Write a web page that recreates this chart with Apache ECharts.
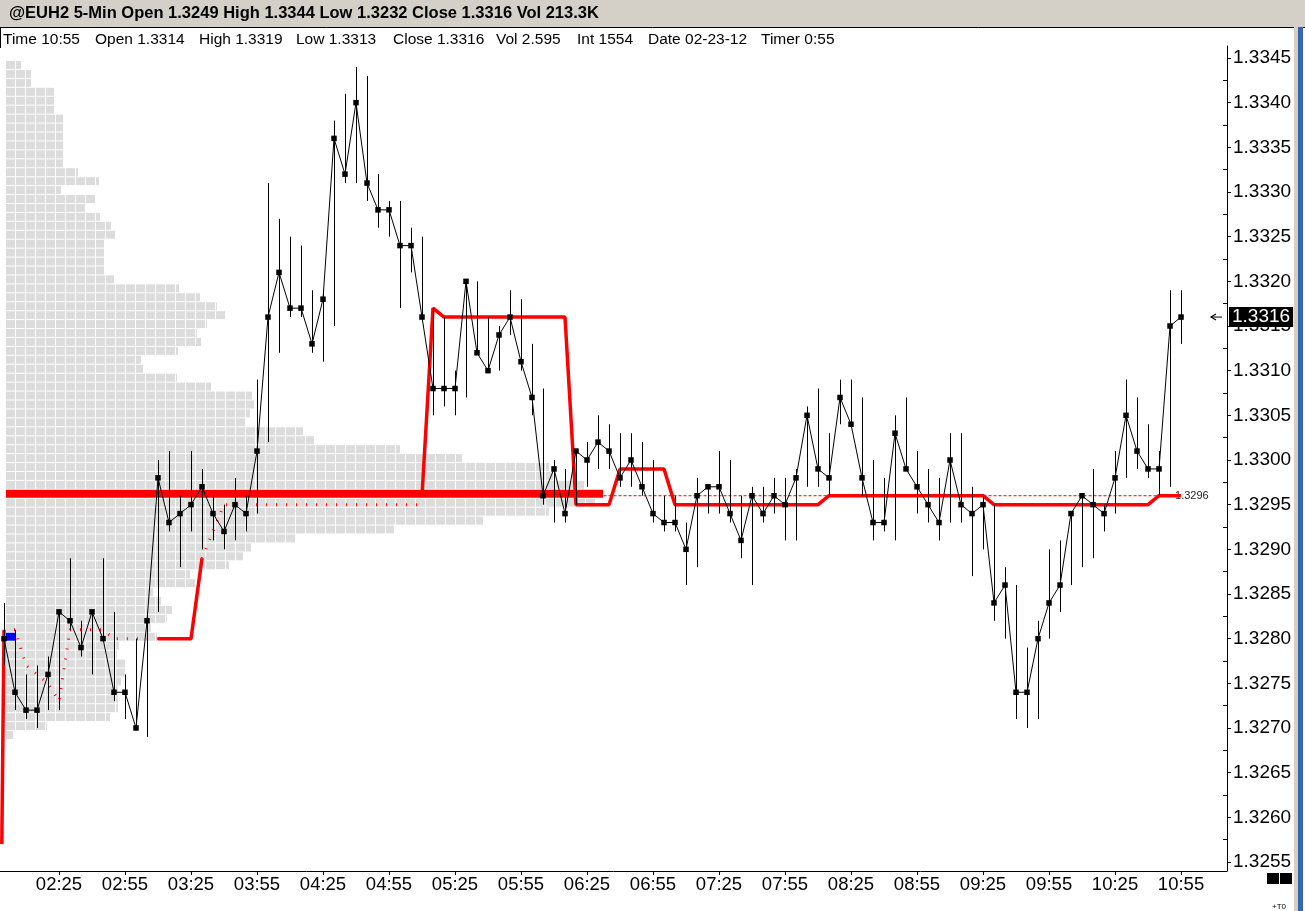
<!DOCTYPE html>
<html><head><meta charset="utf-8">
<script src="https://cdn.jsdelivr.net/npm/echarts@6/dist/echarts.min.js"></script>
<style>html,body{margin:0;padding:0;background:#fff;}#c{width:1305px;height:911px;}</style>
</head><body><div id="c"></div>
<script>
// ---------- data ----------
const times = [
'02:00','02:05','02:10','02:15','02:20','02:25','02:30','02:35','02:40','02:45','02:50','02:55',
'03:00','03:05','03:10','03:15','03:20','03:25','03:30','03:35','03:40','03:45','03:50','03:55',
'04:00','04:05','04:10','04:15','04:20','04:25','04:30','04:35','04:40','04:45','04:50','04:55',
'05:00','05:05','05:10','05:15','05:20','05:25','05:30','05:35','05:40','05:45','05:50','05:55',
'06:00','06:05','06:10','06:15','06:20','06:25','06:30','06:35','06:40','06:45','06:50','06:55',
'07:00','07:05','07:10','07:15','07:20','07:25','07:30','07:35','07:40','07:45','07:50','07:55',
'08:00','08:05','08:10','08:15','08:20','08:25','08:30','08:35','08:40','08:45','08:50','08:55',
'09:00','09:05','09:10','09:15','09:20','09:25','09:30','09:35','09:40','09:45','09:50','09:55',
'10:00','10:05','10:10','10:15','10:20','10:25','10:30','10:35','10:40','10:45','10:50','10:55'];

const closes = [
1.3280,1.3274,1.3272,1.3272,1.3276,1.3283,1.3282,1.3279,1.3283,1.3280,1.3274,1.3274,
1.3270,1.3282,1.3298,1.3293,1.3294,1.3295,1.3297,1.3294,1.3292,1.3295,1.3294,1.3301,
1.3316,1.3321,1.3317,1.3317,1.3313,1.3318,1.3336,1.3332,1.3340,1.3331,1.3328,1.3328,
1.3324,1.3324,1.3316,1.3308,1.3308,1.3308,1.3320,1.3312,1.3310,1.3314,1.3316,1.3311,
1.3307,1.3296,1.3299,1.3294,1.3301,1.3300,1.3302,1.3301,1.3298,1.3300,1.3297,1.3294,
1.3293,1.3293,1.3290,1.3296,1.3297,1.3297,1.3294,1.3291,1.3296,1.3294,1.3296,1.3295,
1.3298,1.3305,1.3299,1.3298,1.3307,1.3304,1.3298,1.3293,1.3293,1.3303,1.3299,1.3297,
1.3295,1.3293,1.3300,1.3295,1.3294,1.3295,1.3284,1.3286,1.3274,1.3274,1.3280,1.3284,
1.3286,1.3294,1.3296,1.3295,1.3294,1.3298,1.3305,1.3301,1.3299,1.3299,1.3315,1.3316];

const highs = [
1.3284,1.3281,1.3276,1.3277,1.3278,1.3283,1.3289,1.3282,1.3283,1.3289,1.3283,1.3276,
1.3280,1.3283,1.3300,1.3301,1.3296,1.3301,1.3299,1.3296,1.3295,1.3298,1.3296,1.3309,
1.3331,1.3327,1.3325,1.3324,1.3319,1.3319,1.3338,1.3341,1.3344,1.3343,1.3332,1.3329,
1.3329,1.3326,1.3325,1.3317,1.3316,1.3310,1.3320,1.3320,1.3316,1.3315,1.3319,1.3318,
1.3313,1.3308,1.3300,1.3299,1.3301,1.3302,1.3305,1.3304,1.3303,1.3303,1.3302,1.3300,
1.3296,1.3296,1.3293,1.3298,1.3297,1.3301,1.3300,1.3296,1.3297,1.3297,1.3298,1.3298,
1.3299,1.3306,1.3308,1.3303,1.3309,1.3309,1.3307,1.3300,1.3298,1.3305,1.3307,1.3301,
1.3299,1.3298,1.3303,1.3303,1.3297,1.3296,1.3295,1.3288,1.3286,1.3279,1.3282,1.3290,
1.3291,1.3294,1.3296,1.3299,1.3295,1.3301,1.3309,1.3307,1.3304,1.3301,1.3319,1.3319];

const lows = [
1.3277,1.3272,1.3271,1.3270,1.3272,1.3272,1.3281,1.3278,1.3276,1.3280,1.3273,1.3271,
1.3270,1.3269,1.3283,1.3292,1.3288,1.3292,1.3290,1.3291,1.3290,1.3291,1.3292,1.3294,
1.3302,1.3312,1.3316,1.3316,1.3312,1.3311,1.3315,1.3331,1.3331,1.3329,1.3326,1.3325,
1.3317,1.3321,1.3316,1.3305,1.3306,1.3305,1.3307,1.3312,1.3310,1.3310,1.3314,1.3310,
1.3305,1.3295,1.3293,1.3293,1.3295,1.3297,1.3299,1.3299,1.3297,1.3297,1.3296,1.3293,
1.3292,1.3292,1.3286,1.3288,1.3294,1.3294,1.3293,1.3289,1.3286,1.3293,1.3294,1.3291,
1.3291,1.3297,1.3297,1.3296,1.3304,1.3304,1.3296,1.3291,1.3292,1.3291,1.3299,1.3294,
1.3293,1.3291,1.3293,1.3293,1.3287,1.3290,1.3282,1.3280,1.3271,1.3270,1.3271,1.3280,
1.3283,1.3286,1.3288,1.3289,1.3292,1.3294,1.3298,1.3299,1.3298,1.3296,1.3297,1.3313];

// developing POC, thick segments (null = not drawn thick)
const dpocStartIndex = -0.2;
const dpocStartPrice = 1.3257;
const dpocThick = [
1.3281,null,null,null,null,null,null,null,null,null,null,null,
null,null,1.3280,1.3280,1.3280,1.3280,1.3289,null,null,null,null,null,
null,null,null,null,null,null,null,null,null,null,null,null,
null,null,1.3296,1.3317,1.3316,1.3316,1.3316,1.3316,1.3316,1.3316,1.3316,1.3316,
1.3316,1.3316,1.3316,1.3316,1.3295,1.3295,1.3295,1.3295,1.3299,1.3299,1.3299,1.3299,
1.3299,1.3295,1.3295,1.3295,1.3295,1.3295,1.3295,1.3295,1.3295,1.3295,1.3295,1.3295,
1.3295,1.3295,1.3295,1.3296,1.3296,1.3296,1.3296,1.3296,1.3296,1.3296,1.3296,1.3296,
1.3296,1.3296,1.3296,1.3296,1.3296,1.3296,1.3295,1.3295,1.3295,1.3295,1.3295,1.3295,
1.3295,1.3295,1.3295,1.3295,1.3295,1.3295,1.3295,1.3295,1.3295,1.3296,1.3296,1.3296];

// developing POC, thin dotted segments
const dpocThin = [
1.3281,1.3281,1.3277,1.3276,1.3275,1.3273,1.3281,1.3281,1.3281,1.3281,1.3280,1.3280,
1.3280,1.3280,1.3280,null,null,null,1.3289,1.3292,1.3295,1.3295,1.3295,1.3295,
1.3295,1.3295,1.3295,1.3295,1.3295,1.3295,1.3295,1.3295,1.3295,1.3295,1.3295,1.3295,
1.3295,1.3295,1.3295,null,null,null,null,null,null,null,null,null,
null,null,null,null,null,null,null,null,null,null,null,null,
null,null,null,null,null,null,null,null,null,null,null,null,
null,null,null,null,null,null,null,null,null,null,null,null,
null,null,null,null,null,null,null,null,null,null,null,null,
null,null,null,null,null,null,null,null,null,null,null,null];

// volume profile (price rows, block counts)
const profilePrices = [
1.3344,1.3343,1.3342,1.3341,1.3340,1.3339,1.3338,1.3337,1.3336,1.3335,1.3334,1.3333,
1.3332,1.3331,1.3330,1.3329,1.3328,1.3327,1.3326,1.3325,1.3324,1.3323,1.3322,1.3321,
1.3320,1.3319,1.3318,1.3317,1.3316,1.3315,1.3314,1.3313,1.3312,1.3311,1.3310,1.3309,
1.3308,1.3307,1.3306,1.3305,1.3304,1.3303,1.3302,1.3301,1.3300,1.3299,1.3298,1.3297,
1.3296,1.3295,1.3294,1.3293,1.3292,1.3291,1.3290,1.3289,1.3288,1.3287,1.3286,1.3285,
1.3284,1.3283,1.3282,1.3281,1.3280,1.3279,1.3278,1.3277,1.3276,1.3275,1.3274,1.3273,
1.3272,1.3271,1.3270,1.3269];
const profileCounts = [
1.5,2.5,2.5,4.8,4.8,4.8,5.7,5.7,5.7,5.7,5.7,5.7,
7.2,9.3,5.5,8.9,7.9,9.4,10.5,10.9,9.8,9.8,9.8,9.8,
10.8,17.3,19.4,21.1,21.9,20.1,19.1,19.5,17.2,13.5,13.7,17.1,
20.5,24.6,24.8,24.4,23.9,29.7,30.8,39.4,45.6,54.3,54.7,57.8,
59.7,58.9,54.3,47.7,38.8,28.9,24.5,23.7,22.3,18.4,18.9,14.7,
15.5,16.6,16.1,14.5,15.1,11.3,11.1,11.9,11.9,11.5,11.2,11.2,
11.2,10.4,4.1,0.7];
const pocPrice = 1.3296;
const pocExtStartIndex = 54.5;
const openMarkPrice = 1.3280;
const lastClose = 1.3316;

const yTicks = [1.3255,1.3260,1.3265,1.3270,1.3275,1.3280,1.3285,1.3290,1.3295,1.3300,
1.3305,1.3310,1.3315,1.3320,1.3325,1.3330,1.3335,1.3340,1.3345];
const yMinorTicks = [1.32575,1.32625,1.32675,1.32725,1.32775,1.32825,1.32875,1.32925,1.32975,
1.33025,1.33075,1.33125,1.33175,1.33225,1.33275,1.33325,1.33375,1.33425];
const xTickLabels = ['02:25','02:55','03:25','03:55','04:25','04:55','05:25','05:55','06:25',
'06:55','07:25','07:55','08:25','08:55','09:25','09:55','10:25','10:55'];

// ---------- chart ----------
const FONT = "'Liberation Sans', Arial, sans-serif";
const yMin = 1.3253992, yMax = 1.3346343;
const xTickIdx = xTickLabels.map(t => times.indexOf(t));
const toPairs = arr => arr.map((v, i) => [i, v == null ? '-' : v]);

const chart = echarts.init(document.getElementById('c'), null, {renderer: 'canvas'});

function renderProfile(params, api) {
  const c = api.value(0), p = api.value(1);
  const o = api.coord([0, p]);
  const h = api.size([0, 0.0001])[1];
  const u = api.size([1, 0])[0];
  const top = o[1] - h * 0.66;
  const kids = [];
  if (Math.abs(p - pocPrice) < 1e-7) {
    kids.push({type: 'rect', shape: {x: o[0], y: top, width: c * u, height: h - 1}, style: {fill: '#ff0000'}});
  } else {
    for (let k = 0; k < c; k++) {
      const w = Math.min(0.9, c - k) * u;
      const blue = k === 0 && Math.abs(p - openMarkPrice) < 1e-7;
      kids.push({type: 'rect', shape: {x: o[0] + k * u, y: top, width: w, height: h - 1},
        style: {fill: blue ? '#0000ff' : '#dcdcdc'}});
    }
  }
  return {type: 'group', children: kids};
}

function renderHL(params, api) {
  const i = api.value(0);
  const a = api.coord([i, api.value(1)]);
  const b = api.coord([i, api.value(2)]);
  const x = Math.round(a[0]) + 0.5;
  return {type: 'line', shape: {x1: x, y1: a[1], x2: x, y2: b[1]},
    style: {stroke: '#000', lineWidth: 1}};
}

const txt = (x, s) => ({type: 'text', x: x, y: 40,
  style: {text: s, font: '15.5px ' + FONT, fill: '#000', textVerticalAlign: 'middle'}, z: 11});

const option = {
  animation: false,
  backgroundColor: '#ffffff',
  grid: {left: 0, top: 46, width: 1227, height: 825, containLabel: false},
  xAxis: [
    {type: 'value', min: -0.3636, max: 111.18, gridIndex: 0,
     axisLine: {show: true, onZero: false, lineStyle: {color: '#000', width: 1}},
     axisTick: {show: true, customValues: xTickIdx, length: 4, lineStyle: {color: '#000'}},
     axisLabel: {customValues: xTickIdx, formatter: v => times[Math.round(v)] || '',
       color: '#000', fontSize: 18.5, fontFamily: FONT, margin: 4},
     splitLine: {show: false}},
    {type: 'value', min: -0.6, max: 122.1, show: false, gridIndex: 0}
  ],
  yAxis: [
    {type: 'value', position: 'right', min: yMin, max: yMax, scale: true,
     axisLine: {show: true, onZero: false, lineStyle: {color: '#000', width: 1}},
     axisTick: {show: true, customValues: yTicks, length: 4, inside: false, lineStyle: {color: '#000'}},
     axisLabel: {customValues: yTicks, formatter: v => v.toFixed(4), color: '#000',
       fontSize: 19, fontFamily: FONT, margin: 6},
     splitLine: {show: false}},
    {type: 'value', position: 'right', min: yMin, max: yMax, scale: true,
     axisLine: {show: false, onZero: false},
     axisTick: {show: true, customValues: yMinorTicks, length: 4, inside: true, lineStyle: {color: '#000'}},
     axisLabel: {customValues: [lastClose], formatter: v => v.toFixed(4), color: '#fff',
       backgroundColor: '#000', padding: [1, 3, 0, 3], lineHeight: 19,
       fontSize: 19, fontFamily: FONT, margin: 2},
     splitLine: {show: false}}
  ],
  series: [
    {type: 'custom', name: 'profile', xAxisIndex: 1, yAxisIndex: 0, renderItem: renderProfile,
     data: profileCounts.map((c, i) => [c, profilePrices[i]]), z: 1, silent: true},
    {type: 'line', name: 'pocExt', xAxisIndex: 0, yAxisIndex: 0,
     data: [[pocExtStartIndex, pocPrice], [closes.length - 1, pocPrice]],
     symbol: 'none', lineStyle: {color: '#ff0000', width: 1, type: [3, 2]}, z: 2,
     endLabel: {show: true, formatter: () => pocPrice.toFixed(4), color: '#222', fontSize: 11,
       fontFamily: FONT, offset: [-14, 0]}},
    {type: 'line', name: 'dpocThin', xAxisIndex: 0, yAxisIndex: 0, data: toPairs(dpocThin),
     symbol: 'none', connectNulls: false,
     lineStyle: {color: '#ff0000', width: 3, type: [1, 9], cap: 'butt'}, z: 3},
    {type: 'line', name: 'dpocThick', xAxisIndex: 0, yAxisIndex: 0,
     data: [[dpocStartIndex, dpocStartPrice]].concat(toPairs(dpocThick)),
     symbol: 'none', connectNulls: false,
     lineStyle: {color: '#ff0000', width: 3.5}, z: 4},
    {type: 'custom', name: 'hl', xAxisIndex: 0, yAxisIndex: 0, renderItem: renderHL,
     data: highs.map((h, i) => [i, lows[i], h]), z: 5, silent: true},
    {type: 'line', name: 'close', xAxisIndex: 0, yAxisIndex: 0, data: toPairs(closes),
     symbol: 'rect', symbolSize: 5.5, itemStyle: {color: '#000'},
     lineStyle: {color: '#000', width: 1}, z: 6}
  ],
  graphic: [
    {type: 'rect', shape: {x: 0, y: 0, width: 1305, height: 27}, style: {fill: '#d4d0c8'}, z: 10},
    {type: 'line', shape: {x1: 0, y1: 27.5, x2: 1305, y2: 27.5}, style: {stroke: '#000', lineWidth: 1}, z: 10},
    {type: 'line', shape: {x1: 0.5, y1: 28, x2: 0.5, y2: 48}, style: {stroke: '#000', lineWidth: 1}, z: 10},
    {type: 'text', x: 9, y: 13, style: {text: '@EUH2 5-Min Open 1.3249 High 1.3344 Low 1.3232 Close 1.3316 Vol 213.3K',
      font: 'bold 16.5px ' + FONT, fill: '#000', textVerticalAlign: 'middle'}, z: 11},
    txt(3, 'Time 10:55'), txt(95, 'Open 1.3314'), txt(199, 'High 1.3319'), txt(296, 'Low 1.3313'),
    txt(393, 'Close 1.3316'), txt(496, 'Vol 2.595'), txt(577, 'Int 1554'), txt(648, 'Date 02-23-12'),
    txt(761, 'Timer 0:55'),
    {type: 'rect', shape: {x: 1294, y: 27, width: 4, height: 884}, style: {fill: '#d4d0c8'}, z: 10},
    {type: 'rect', shape: {x: 1298, y: 27, width: 5, height: 884}, style: {fill: '#3a66b0'}, z: 10},
    {type: 'rect', shape: {x: 1267, y: 873, width: 12, height: 11}, style: {fill: '#000'}, z: 10},
    {type: 'rect', shape: {x: 1280, y: 873, width: 12, height: 11}, style: {fill: '#000'}, z: 10},
    {type: 'text', x: 1272, y: 903, style: {text: '+T0', font: '8px ' + FONT, fill: '#000'}, z: 10}
  ]
};
chart.setOption(option);

// small arrow pointing at last price, placed with the axis scale
const py = chart.convertToPixel({yAxisIndex: 0}, lastClose);
chart.setOption({graphic: option.graphic.concat([
  {type: 'polyline', shape: {points: [[1222, py], [1211, py]]}, style: {stroke: '#000', lineWidth: 1}, z: 12},
  {type: 'polyline', shape: {points: [[1216, py - 3], [1211, py], [1216, py + 3]]}, style: {stroke: '#000', lineWidth: 1.2, fill: null}, z: 12}
])});
</script>
</body></html>
